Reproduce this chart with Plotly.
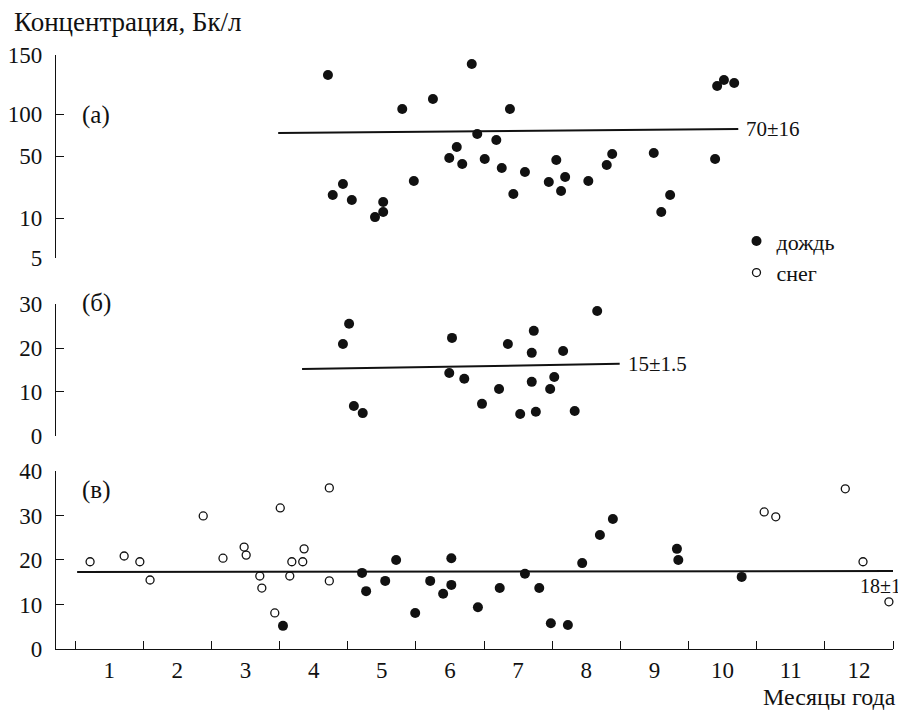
import numpy as np
import plotly.graph_objects as go

# ---------------- data ----------------
MONTHS = list(range(1, 13))
MONTH_LABELS = [str(m) for m in MONTHS]
MONTH_EDGES = [m - 0.5 for m in MONTHS] + [12.5]

# panel (а) — rain, odd non-uniform scale
A_TICKS = [5, 10, 50, 100, 150]
A_TICK_POS = [0, 40, 102, 144, 203]
A_RAIN_X = [4.21, 4.28, 4.43, 4.56, 4.90, 5.02, 5.02, 5.30, 5.47, 5.75, 5.99, 6.10,
            6.18, 6.32, 6.40, 6.51, 6.68, 6.76, 6.88, 6.93, 7.10, 7.45, 7.56, 7.63,
            7.69, 8.03, 8.30, 8.38, 8.99, 9.10, 9.23, 9.89, 9.92, 10.02, 10.17]
A_RAIN_Y = [133, 24.8, 31.9, 21.6, 10.6, 20.3, 13.9, 104.2, 33.9, 112.7, 48.7, 60.7,
            44.8, 142.4, 76.2, 48.1, 69.0, 42.3, 104.2, 25.5, 39.7, 33.2, 47.4, 27.4,
            36.5, 33.9, 44.2, 52.4, 53.6, 13.9, 24.8, 48.1, 123.7, 128.8, 126.3]
A_LINE_X = [3.48, 10.23]
A_LINE_Y = [77.4, 82.1]
A_LABEL = "70±16"

# panel (б) — rain
B_TICKS = [0, 10, 20, 30]
B_RAIN_X = [4.52, 4.43, 4.59, 4.72, 6.03, 5.99, 6.21, 6.47, 6.72, 6.85, 7.03, 7.20,
            7.20, 7.23, 7.26, 7.47, 7.53, 7.66, 7.83, 8.16, 8.19]
B_RAIN_Y = [25.5, 20.9, 6.8, 5.2, 22.3, 14.3, 13.0, 7.3, 10.7, 20.9, 5.0, 12.3,
            18.9, 23.9, 5.5, 10.7, 13.4, 19.3, 5.7, 28.4, 31.6]
B_LINE_X = [3.83, 8.49]
B_LINE_Y = [15.2, 16.4]
B_LABEL = "15±1.5"

# panel (в) — rain and snow
C_TICKS = [0, 10, 20, 30, 40]
C_SNOW_X = [0.72, 1.22, 1.45, 1.60, 2.38, 2.67, 2.98, 3.01, 3.21, 3.24, 3.39, 3.43,
            3.51, 3.65, 3.68, 3.84, 3.86, 4.23, 4.23, 10.61, 10.78, 11.80, 12.06, 12.44]
C_SNOW_Y = [19.6, 20.9, 19.6, 15.5, 29.9, 20.4, 22.9, 21.1, 16.4, 13.7, 40.4, 8.1,
            31.7, 16.4, 19.6, 19.6, 22.5, 36.2, 15.3, 30.8, 29.7, 36.0, 19.6, 10.6]
C_RAIN_X = [3.55, 4.71, 4.77, 5.05, 5.21, 5.49, 5.71, 5.90, 6.02, 6.02, 6.41, 6.73,
            7.10, 7.31, 7.48, 7.73, 7.94, 8.20, 8.39, 9.33, 9.35, 10.28]
C_RAIN_Y = [5.2, 17.1, 13.0, 15.3, 20.0, 8.1, 15.3, 12.4, 20.4, 14.4, 9.4, 13.7,
            16.9, 13.7, 5.8, 5.4, 19.3, 25.6, 29.2, 22.5, 20.0, 16.2]
C_LINE_X = [0.53, 12.5]
C_LINE_Y = [17.3, 17.5]
C_LABEL = "18±1"

RAIN_NAME = "дождь"
SNOW_NAME = "снег"


def a_scale(v):
    return np.interp(v, A_TICKS, A_TICK_POS)


FONT = "Liberation Serif, Times New Roman, serif"
BLACK = "#111111"

fig = go.Figure()

rain_marker = dict(color=BLACK, size=10, symbol="circle")
snow_marker = dict(color=BLACK, size=8, symbol="circle-open", line=dict(width=1.3, color=BLACK))

# panel (а)
fig.add_trace(go.Scatter(x=A_RAIN_X, y=a_scale(A_RAIN_Y), mode="markers", marker=rain_marker,
                         name=RAIN_NAME, showlegend=True, xaxis="x", yaxis="y", cliponaxis=False))
fig.add_trace(go.Scatter(x=A_LINE_X, y=a_scale(A_LINE_Y), mode="lines",
                         line=dict(color=BLACK, width=2), showlegend=False, xaxis="x", yaxis="y"))
# panel (б)
fig.add_trace(go.Scatter(x=B_RAIN_X, y=B_RAIN_Y, mode="markers", marker=rain_marker,
                         showlegend=False, xaxis="x", yaxis="y2", cliponaxis=False))
fig.add_trace(go.Scatter(x=B_LINE_X, y=B_LINE_Y, mode="lines",
                         line=dict(color=BLACK, width=2), showlegend=False, xaxis="x", yaxis="y2"))
# panel (в)
fig.add_trace(go.Scatter(x=C_LINE_X, y=C_LINE_Y, mode="lines",
                         line=dict(color=BLACK, width=2), showlegend=False, xaxis="x", yaxis="y3"))
fig.add_trace(go.Scatter(x=C_SNOW_X, y=C_SNOW_Y, mode="markers", marker=snow_marker,
                         name=SNOW_NAME, showlegend=True, xaxis="x", yaxis="y3", cliponaxis=False))
fig.add_trace(go.Scatter(x=C_RAIN_X, y=C_RAIN_Y, mode="markers", marker=rain_marker,
                         showlegend=False, xaxis="x", yaxis="y3", cliponaxis=False))

tickfont = dict(family=FONT, size=23, color=BLACK)
yax_common = dict(showline=True, linecolor=BLACK, linewidth=1.3, ticks="inside", ticklen=8,
                  tickwidth=1.3, tickcolor=BLACK, showgrid=False, zeroline=False,
                  tickfont=tickfont, anchor="x", ticklabelstandoff=8, automargin=False)

# the page body adds an 8px offset, so the figure is 8px smaller than the window
fig.update_layout(
    width=898, height=703,
    margin=dict(l=48, r=13, t=47, b=62),
    plot_bgcolor="white", paper_bgcolor="white",
    font=dict(family=FONT, color=BLACK),
    xaxis=dict(domain=[0, 1], range=[0.22, 12.5], anchor="y3", automargin=False,
               tickmode="array", tickvals=MONTHS, ticktext=MONTH_LABELS, ticks="",
               minor=dict(tickmode="array", tickvals=MONTH_EDGES, ticks="inside",
                          ticklen=8, tickwidth=1.3, tickcolor=BLACK, showgrid=False),
               showline=True, linecolor=BLACK, linewidth=1.3, showgrid=False, zeroline=False,
               tickfont=tickfont),
    yaxis=dict(domain=[0.6582, 1.0], range=[a_scale(A_TICKS[0]), a_scale(A_TICKS[-1])],
               tickmode="array", tickvals=list(a_scale(A_TICKS)), ticktext=[str(t) for t in A_TICKS],
               **yax_common),
    yaxis2=dict(domain=[0.3586, 0.5808], range=[B_TICKS[0], B_TICKS[-1]],
                tickmode="array", tickvals=B_TICKS, **yax_common),
    yaxis3=dict(domain=[0.0, 0.2997], range=[C_TICKS[0], C_TICKS[-1]],
                tickmode="array", tickvals=C_TICKS, **yax_common),
    legend=dict(x=0.813, y=0.722, xanchor="left", yanchor="top",
                font=dict(family=FONT, size=22, color=BLACK),
                bgcolor="rgba(0,0,0,0)", itemwidth=30, tracegroupgap=0),
)

fig.add_annotation(text="Концентрация, Бк/л", xref="paper", yref="paper", x=-0.052, y=1.0556,
                   xanchor="left", yanchor="middle", showarrow=False,
                   font=dict(family=FONT, size=27, color=BLACK))
fig.add_annotation(text="Месяцы года", xref="paper", yref="paper", x=1.006, y=-0.0815,
                   xanchor="right", yanchor="middle", showarrow=False,
                   font=dict(family=FONT, size=24, color=BLACK))
panel_font = dict(family=FONT, size=25, color=BLACK)
fig.add_annotation(text="(а)", xref="paper", yref="paper", x=0.0287, y=0.899,
                   xanchor="left", yanchor="middle", showarrow=False, font=panel_font)
fig.add_annotation(text="(б)", xref="paper", yref="paper", x=0.0287, y=0.5825,
                   xanchor="left", yanchor="middle", showarrow=False, font=panel_font)
fig.add_annotation(text="(в)", xref="paper", yref="paper", x=0.0287, y=0.2677,
                   xanchor="left", yanchor="middle", showarrow=False, font=panel_font)

lab_font = dict(family=FONT, size=21, color=BLACK)
fig.add_annotation(text=A_LABEL, x=A_LINE_X[-1], y=float(a_scale(A_LINE_Y[-1])), xref="x", yref="y",
                   xanchor="left", yanchor="middle", xshift=6, showarrow=False, font=lab_font)
fig.add_annotation(text=B_LABEL, x=B_LINE_X[-1], y=B_LINE_Y[-1], xref="x", yref="y2",
                   xanchor="left", yanchor="middle", xshift=6, showarrow=False, font=lab_font)
fig.add_annotation(text=C_LABEL, x=C_LINE_X[-1], y=C_LINE_Y[-1], xref="x", yref="y3",
                   xanchor="right", yanchor="middle", xshift=10, yshift=-15, showarrow=False,
                   font=dict(family=FONT, size=20, color=BLACK))

fig.write_html("out.html")
